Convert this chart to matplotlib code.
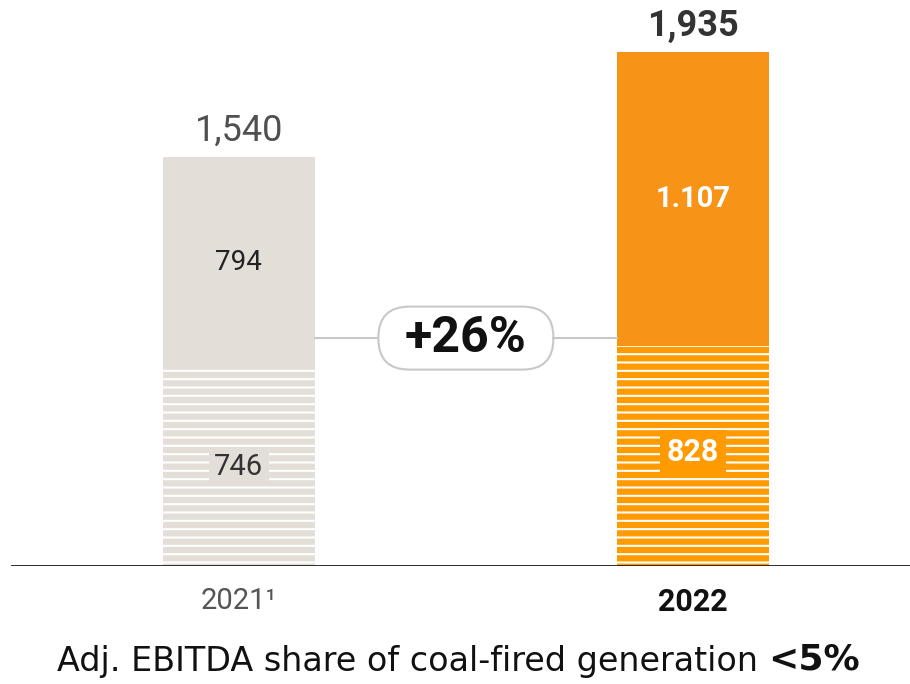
import matplotlib.pyplot as plt
import numpy as np
from matplotlib.patches import FancyBboxPatch

years = ["2021\u00b9", "2022"]
lower = [746, 828]
upper = [794, 1107]
totals = ["1,540", "1,935"]
upper_labels = ["794", "1.107"]
lower_labels = ["746", "828"]
change = "+26%"

plt.rcParams['font.family'] = ['Roboto', 'DejaVu Sans']
plt.rcParams['hatch.color'] = 'white'
plt.rcParams['hatch.linewidth'] = 1.5

GREY = "#E3DED8"
ORANGE_TOP = "#F79316"
ORANGE_LOW = "#FF9A00"

fig = plt.figure(figsize=(9.1, 6.84), dpi=100)
ax = fig.add_axes([0, 118 / 684, 1, 566 / 684])

x = np.arange(len(years))
width = 0.335
low_colors = [GREY, ORANGE_LOW]
top_colors = [GREY, ORANGE_TOP]

ax.bar(x, lower, width, color=low_colors, hatch='--', linewidth=0)
ax.bar(x, upper, width, bottom=lower, color=top_colors, linewidth=0)

ax.set_xlim(-0.526, 1.478)
ax.set_ylim(0, 2131)
ax.axis('off')
ax.axhline(0, xmin=12 / 910, xmax=1, color="#1a1a1a", lw=2)

tot = np.array(lower) + np.array(upper)
# totals on top
ax.text(x[0], tot[0] + 30, totals[0], ha='center', va='bottom',
        fontsize=26, color="#505050")
ax.text(x[1], tot[1] + 30, totals[1], ha='center', va='bottom',
        fontsize=26, color="#333333", fontweight='bold')

# segment labels
ax.text(x[0], lower[0] + upper[0] / 2, upper_labels[0], ha='center',
        va='center', fontsize=20, color="#222222")
ax.text(x[1], lower[1] + upper[1] / 2, upper_labels[1], ha='center',
        va='center', fontsize=21, color="white", fontweight='bold')
ax.text(x[0], lower[0] / 2, lower_labels[0], ha='center', va='center',
        fontsize=21, color="#333333",
        bbox=dict(facecolor=GREY, edgecolor='none', pad=4))
ax.text(x[1], lower[1] / 2 + 15, lower_labels[1], ha='center', va='center',
        fontsize=22, color="white", fontweight='bold',
        bbox=dict(facecolor=ORANGE_LOW, edgecolor='none', pad=5))

# connector with pill
ypix = 0.2656
xpix = 454
y_mid = 858
pill_w = 175 / xpix
pill_h = 63 / ypix
aspect = xpix / ypix
ax.plot([x[0] + width / 2, 0.5 - pill_w / 2], [y_mid, y_mid],
        color="#c8c8c8", lw=1.5)
ax.plot([0.5 + pill_w / 2, x[1] - width / 2], [y_mid, y_mid],
        color="#c8c8c8", lw=1.5)
pill = FancyBboxPatch((0.5 - pill_w / 2, y_mid - pill_h / 2), pill_w, pill_h,
                      boxstyle="round,pad=0,rounding_size=%f" % (31 / xpix),
                      mutation_aspect=aspect, facecolor='white',
                      edgecolor="#c8c8c8", lw=1.5)
ax.add_patch(pill)
ax.text(0.5, y_mid, change, ha='center', va='center', fontsize=36,
        fontweight='bold', color="#111111")

# category labels
ax.text(x[0], -80, years[0], ha='center', va='top', fontsize=21,
        color="#555555")
ax.text(x[1], -80, years[1], ha='center', va='top', fontsize=22,
        color="#111111", fontweight='bold')

fig.text(758 / 910, 1 - 662 / 684, "Adj. EBITDA share of coal-fired generation",
         ha='right', va='center', fontsize=24, color="#111111",
         family='DejaVu Sans')
fig.text(768 / 910, 1 - 660 / 684, "<5%", ha='left', va='center',
         fontsize=26, color="#111111", fontweight='bold',
         family='DejaVu Sans')

fig.savefig("out.png", dpi=100)
